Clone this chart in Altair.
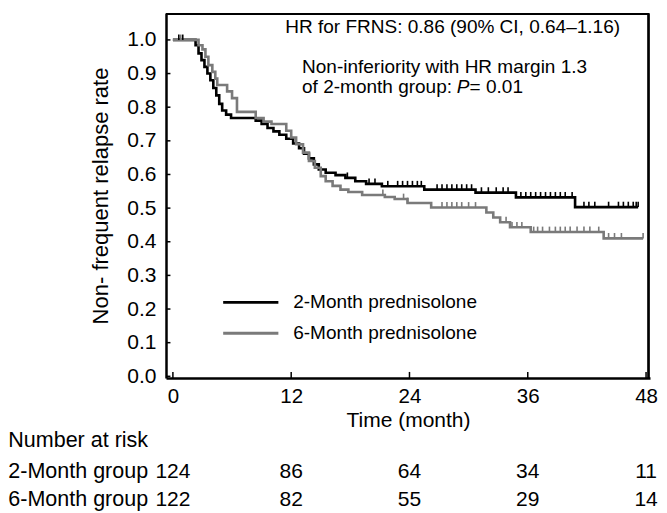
import altair as alt
import numpy as np
import pandas as pd

FONT = "Liberation Sans"
BLACK = "#000000"
GRAY = "#7a7a7a"

groups = ["2-Month prednisolone", "6-Month prednisolone"]

# Kaplan-Meier step curves (time in months, non-frequent relapse rate)
times_2m = [0, 2.3, 2.6, 2.9, 3.2, 3.5, 3.8, 4.1, 4.4, 4.7, 5.0, 5.4, 5.9, 8.4, 9.0, 9.6,
            10.2, 10.8, 11.5, 12.2, 12.8, 13.3, 13.8, 14.3, 14.8, 15.5, 16.5, 17.5, 18.5,
            19.6, 21.2, 25.5, 30.7, 34.8, 40.8, 47.2]
surv_2m = [1.0, 0.984, 0.96, 0.94, 0.92, 0.90, 0.88, 0.857, 0.835, 0.81, 0.79, 0.778, 0.768,
           0.76, 0.75, 0.738, 0.728, 0.718, 0.706, 0.692, 0.678, 0.662, 0.648, 0.63, 0.615,
           0.605, 0.598, 0.59, 0.58, 0.572, 0.565, 0.555, 0.546, 0.532, 0.503, 0.503]

times_6m = [0, 2.6, 3.0, 3.3, 3.6, 4.0, 4.3, 4.5, 5.5, 6.0, 6.5, 8.4, 9.2, 10.0, 11.5, 12.0,
            12.5, 13.2, 13.8, 14.4, 15.0, 15.5, 16.2, 17.0, 17.8, 19.2, 21.5, 22.5, 23.8,
            26.2, 31.8, 32.5, 33.2, 34.2, 36.3, 43.7, 47.7]
surv_6m = [1.0, 0.984, 0.972, 0.95, 0.925, 0.905, 0.885, 0.866, 0.847, 0.827, 0.786, 0.768,
           0.757, 0.75, 0.73, 0.71, 0.69, 0.665, 0.64, 0.62, 0.595, 0.58, 0.566, 0.555,
           0.548, 0.539, 0.533, 0.527, 0.515, 0.502, 0.487, 0.472, 0.458, 0.443, 0.429,
           0.41, 0.41]

# censoring times
cens_2m = [0.6, 1.0, 17.7, 19.9, 20.5, 21.8, 22.8, 23.3, 23.8, 24.3, 24.8, 25.2, 26.8, 27.3,
           27.8, 28.3, 28.8, 29.3, 29.8, 30.3, 31.3, 32.0, 32.8, 33.5, 34.0, 35.3, 35.8,
           36.3, 36.8, 37.3, 37.8, 38.3, 38.8, 39.3, 39.8, 40.5, 41.7, 42.2, 42.8, 44.2,
           45.2, 45.7, 46.2, 46.7, 47.0, 47.2]
cens_6m = [0.8, 21.3, 23.4, 23.8, 27.3, 27.8, 28.3, 28.8, 29.3, 30.0, 30.7, 33.8, 34.4,
           34.9, 35.4, 36.6, 37.0, 37.5, 38.2, 38.8, 39.3, 39.8, 40.3, 41.0, 41.7, 42.3,
           43.2, 44.2, 44.8, 45.5, 47.7]

# number at risk
risk_times = [0, 12, 24, 36, 48]
risk_2m = [124, 86, 64, 34, 11]
risk_6m = [122, 82, 55, 29, 14]
risk_rows = ["2-Month group", "6-Month group"]

x_ticks = [0, 12, 24, 36, 48]
y_ticks = [0.0, 0.1, 0.2, 0.3, 0.4, 0.5, 0.6, 0.7, 0.8, 0.9, 1.0]

X_DOMAIN = [-0.7, 48.4]
Y_DOMAIN = [-0.005, 1.08]

# ---------- build tables ----------
curve_rows = []
for g, ts, ss in [(groups[0], times_2m, surv_2m), (groups[1], times_6m, surv_6m)]:
    for t, s in zip(ts, ss):
        curve_rows.append({"group": g, "t": t, "s": s})
curve_df = pd.DataFrame(curve_rows)


def step_value(ts, ss, t):
    i = int(np.searchsorted(np.array(ts), t, side="right")) - 1
    return ss[max(i, 0)]


cens_rows = []
for g, ts, ss, cs in [(groups[0], times_2m, surv_2m, cens_2m),
                      (groups[1], times_6m, surv_6m, cens_6m)]:
    for c in cs:
        s = step_value(ts, ss, c)
        cens_rows.append({"group": g, "t": c, "s": s, "s2": s + 0.016})
cens_df = pd.DataFrame(cens_rows)

x_scale = alt.Scale(domain=X_DOMAIN, nice=False, zero=False)
y_scale = alt.Scale(domain=Y_DOMAIN, nice=False, zero=False)
color_scale = alt.Scale(domain=groups, range=[BLACK, GRAY])

x_axis = alt.Axis(values=x_ticks, title="Time (month)", ticks=False, grid=False,
                  domainColor="black", domainWidth=2.5, labelFontSize=20.5,
                  labelFont=FONT, labelColor="black", labelPadding=8,
                  titleFont=FONT, titleFontSize=21, titleFontWeight="normal",
                  titleColor="black", titlePadding=3)
y_axis = alt.Axis(values=y_ticks, format=".1f", title="Non- frequent relapse rate",
                  ticks=False, grid=False, domainColor="black", domainWidth=2.5,
                  labelFontSize=21, labelFont=FONT, labelColor="black",
                  labelPadding=10, titleFont=FONT, titleFontSize=22,
                  titleFontWeight="normal", titleColor="black", titlePadding=14)


def X(field):
    return alt.X(field, scale=x_scale, axis=x_axis)


def Y(field):
    return alt.Y(field, scale=y_scale, axis=y_axis)


# top and right sides of the plot box (line path plus rules, just inside the edges)
x_edge = X_DOMAIN[1] - 0.15
y_edge = Y_DOMAIN[1] - 0.003
frame_df = pd.DataFrame({"k": [0, 1, 2],
                         "t": [X_DOMAIN[0], x_edge, x_edge],
                         "s": [y_edge, y_edge, Y_DOMAIN[0]]})
frame = alt.Chart(frame_df).mark_line(strokeWidth=2.2, color="black").encode(
    x=X("t:Q"), y=Y("s:Q"), order=alt.Order("k:Q"))
top_df = pd.DataFrame({"t": [X_DOMAIN[0]], "x1": [x_edge], "s": [y_edge]})
top_rule = alt.Chart(top_df).mark_rule(strokeWidth=2.2, color="black").encode(
    x=X("t:Q"), x2="x1:Q", y=Y("s:Q"))
right_df = pd.DataFrame({"t": [x_edge], "s": [Y_DOMAIN[0]], "y1": [y_edge]})
right_rule = alt.Chart(right_df).mark_rule(strokeWidth=2.2, color="black").encode(
    x=X("t:Q"), y=Y("s:Q"), y2="y1:Q")

lines = alt.Chart(curve_df).mark_line(interpolate="step-after", strokeWidth=2.6).encode(
    x=X("t:Q"), y=Y("s:Q"),
    color=alt.Color("group:N", scale=color_scale, legend=None),
    order=alt.Order("t:Q"),
)

censors = alt.Chart(cens_df).mark_rule(strokeWidth=1.6).encode(
    x=X("t:Q"), y=Y("s:Q"), y2="s2:Q",
    color=alt.Color("group:N", scale=color_scale, legend=None),
)

# inward tick marks
xt_df = pd.DataFrame({"t": x_ticks, "s": [Y_DOMAIN[0]] * len(x_ticks),
                      "y1": [0.013] * len(x_ticks)})
x_tick_rules = alt.Chart(xt_df).mark_rule(strokeWidth=1.5, color="black").encode(
    x=X("t:Q"), y=Y("s:Q"), y2="y1:Q")
yt_df = pd.DataFrame({"s": y_ticks, "t": [X_DOMAIN[0]] * len(y_ticks),
                      "x1": [-0.25] * len(y_ticks)})
y_tick_rules = alt.Chart(yt_df).mark_rule(strokeWidth=1.5, color="black").encode(
    y=Y("s:Q"), x=X("t:Q"), x2="x1:Q")

# legend (manual)
leg_df = pd.DataFrame({"group": groups, "t": [5.1, 5.1], "x1": [10.7, 10.7],
                       "s": [0.22, 0.128], "xt": [12.2, 12.2]})
leg_lines = alt.Chart(leg_df).mark_rule(strokeWidth=2.8).encode(
    x=X("t:Q"), x2="x1:Q", y=Y("s:Q"),
    color=alt.Color("group:N", scale=color_scale, legend=None))
leg_text = alt.Chart(leg_df).mark_text(align="left", baseline="middle", fontSize=19,
                                       font=FONT, color="black").encode(
    x=X("xt:Q"), y=Y("s:Q"), text="group:N")

# annotations
ann_df = pd.DataFrame({
    "t": [11.4, 13.1, 13.1, 30.1],
    "s": [1.021, 0.902, 0.842, 0.842],
    "text": ["HR for FRNS: 0.86 (90% CI, 0.64\u20131.16)",
             "Non-inferiority with HR margin 1.3",
             "of 2-month group: ",
             "= 0.01"],
})
ann_text = alt.Chart(ann_df).mark_text(align="left", baseline="alphabetic", fontSize=19,
                                       font=FONT, color="black").encode(
    x=X("t:Q"), y=Y("s:Q"), text="text:N")
p_df = pd.DataFrame({"t": [28.8], "s": [0.842], "text": ["P"]})
p_text = alt.Chart(p_df).mark_text(align="left", baseline="alphabetic", fontSize=19,
                                   font=FONT, fontStyle="italic", color="black").encode(
    x=X("t:Q"), y=Y("s:Q"), text="text:N")

# number at risk table
row_y = {"Number at risk": -0.193, risk_rows[0]: -0.283, risk_rows[1]: -0.368}
lab_df = pd.DataFrame({"t": [-16.7] * 3, "s": list(row_y.values()),
                       "text": list(row_y.keys())})
lab_text = alt.Chart(lab_df).mark_text(align="left", baseline="middle", fontSize=21.5,
                                       font=FONT, color="black").encode(
    x=X("t:Q"), y=Y("s:Q"), text="text:N")
num_rows = []
for t, a, b in zip(risk_times, risk_2m, risk_6m):
    num_rows.append({"t": t, "s": row_y[risk_rows[0]], "text": str(a)})
    num_rows.append({"t": t, "s": row_y[risk_rows[1]], "text": str(b)})
num_df = pd.DataFrame(num_rows)
num_text = alt.Chart(num_df).mark_text(align="center", baseline="middle", fontSize=21,
                                       font=FONT, color="black").encode(
    x=X("t:Q"), y=Y("s:Q"), text="text:N")

chart = alt.layer(
    frame, top_rule, right_rule, lines, censors, x_tick_rules, y_tick_rules, leg_lines,
    leg_text, ann_text, p_text, lab_text, num_text
).properties(
    width=484, height=365, padding={"left": 0, "top": 1, "right": 0, "bottom": 0}
).configure(
    background="white"
).configure_view(
    strokeWidth=0
)

chart.save("out.html", embed_options={"renderer": "svg", "actions": False})
